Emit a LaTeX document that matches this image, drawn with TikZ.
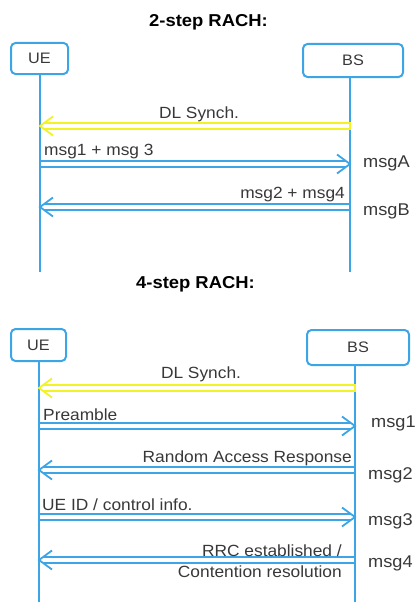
\documentclass[tikz,border=0pt]{standalone}
\usepackage{fontspec}
\setmainfont[FakeStretch=1.07]{Liberation Sans}
\definecolor{lblue}{HTML}{3DA5E6}
\definecolor{lyellow}{HTML}{F2F224}
\definecolor{txt}{HTML}{383838}
\tikzset{
  actor/.style={draw=lblue, line width=2pt, rounded corners=4.5pt, inner sep=0pt, text=txt, font=\fontsize{15.2}{18}\selectfont},
  life/.style={draw=lblue, line width=2pt},
  sig/.style={draw=#1, line width=1.8pt, line join=miter},
  lbl/.style={text=txt, font=\fontsize{16.2}{19}\selectfont, inner sep=0pt},
  side/.style={text=txt, font=\fontsize{17}{19}\selectfont, inner sep=0pt, anchor=base west},
  ttl/.style={font=\fontsize{17.2}{20}\selectfont\bfseries, inner sep=0pt, anchor=base},
}
% hollow double-line arrow pointing right: colour, from, to
\newcommand\arrR[3]{%
  \draw[sig=#1] ([xshift=-4.1pt,yshift=3pt]#3) -- ([yshift=3pt]#2) -- ([yshift=-3pt]#2) -- ([xshift=-4.1pt,yshift=-3pt]#3);
  \draw[sig=#1] ([xshift=-13pt,yshift=9.5pt]#3) -- (#3) -- ([xshift=-13pt,yshift=-9.5pt]#3);
}
% hollow double-line arrow pointing left: colour, from, to
\newcommand\arrL[3]{%
  \draw[sig=#1] ([xshift=4.1pt,yshift=3pt]#3) -- ([yshift=3pt]#2) -- ([yshift=-3pt]#2) -- ([xshift=4.1pt,yshift=-3pt]#3);
  \draw[sig=#1] ([xshift=13pt,yshift=9.5pt]#3) -- (#3) -- ([xshift=13pt,yshift=-9.5pt]#3);
}
\begin{document}
\begin{tikzpicture}[x=1pt,y=-1pt]
\useasboundingbox (0,0) rectangle (416,602);
% ---------- 2-step ----------
\node[ttl] (t1) at (208.5,27) {2-step RACH:};
\node[actor, minimum width=57pt, minimum height=31pt] (ue1) at (39.5,58.5) {UE};
\node[actor, minimum width=100pt, minimum height=33pt] (bs1) at (353,60.5) {BS};
\coordinate (ue1end) at (40,272);
\coordinate (bs1end) at (350,272);
\draw[life] (ue1.south -| ue1end) -- (ue1end);
\draw[life] (bs1.south -| bs1end) -- (bs1end);
\coordinate (a1s) at (350,126); \coordinate (a1e) at (40,126);
\coordinate (a2s) at (40,164); \coordinate (a2e) at (350,164);
\coordinate (a3s) at (350,207); \coordinate (a3e) at (40,207);
\arrL{lyellow}{a1s}{a1e}
\arrR{lblue}{a2s}{a2e}
\arrL{lblue}{a3s}{a3e}
\node[lbl, anchor=base] (l1) at (199,118) {DL Synch.};
\node[lbl, anchor=base west] (l2) at (44,155) {msg1 + msg 3};
\node[lbl, anchor=base east] (l3) at (345,198) {msg2 + msg4};
\node[side] (sa) at (363,167) {msgA};
\node[side] (sb) at (363,215) {msgB};
% ---------- 4-step ----------
\node[ttl] (t2) at (195.5,288) {4-step RACH:};
\node[actor, minimum width=55pt, minimum height=32pt] (ue2) at (38.5,345) {UE};
\node[actor, minimum width=102pt, minimum height=35pt] (bs2) at (358,347.5) {BS};
\coordinate (ue2end) at (39,602);
\coordinate (bs2end) at (355,602);
\draw[life] (ue2.south -| ue2end) -- (ue2end);
\draw[life] (bs2.south -| bs2end) -- (bs2end);
\coordinate (b1s) at (355,388); \coordinate (b1e) at (39,388);
\coordinate (b2s) at (39,426); \coordinate (b2e) at (355,426);
\coordinate (b3s) at (355,470); \coordinate (b3e) at (39,470);
\coordinate (b4s) at (39,517); \coordinate (b4e) at (355,517);
\coordinate (b5s) at (355,560); \coordinate (b5e) at (39,560);
\arrL{lyellow}{b1s}{b1e}
\arrR{lblue}{b2s}{b2e}
\arrL{lblue}{b3s}{b3e}
\arrR{lblue}{b4s}{b4e}
\arrL{lblue}{b5s}{b5e}
\node[lbl, anchor=base] (m1) at (201,378) {DL Synch.};
\node[lbl, anchor=base west] (m2) at (43,420) {Preamble};
\node[lbl, anchor=base east] (m3) at (352,462) {Random Access Response};
\node[lbl, anchor=base west] (m4) at (42,510) {UE ID / control info.};
\node[lbl, anchor=base east] (m5a) at (342,556) {RRC established /};
\node[lbl, anchor=base east] (m5b) at (342,577) {Contention resolution};
\node[side] (s1) at (371,427) {msg1};
\node[side] (s2) at (368,479) {msg2};
\node[side] (s3) at (368,525) {msg3};
\node[side] (s4) at (368,567) {msg4};
\end{tikzpicture}
\end{document}
